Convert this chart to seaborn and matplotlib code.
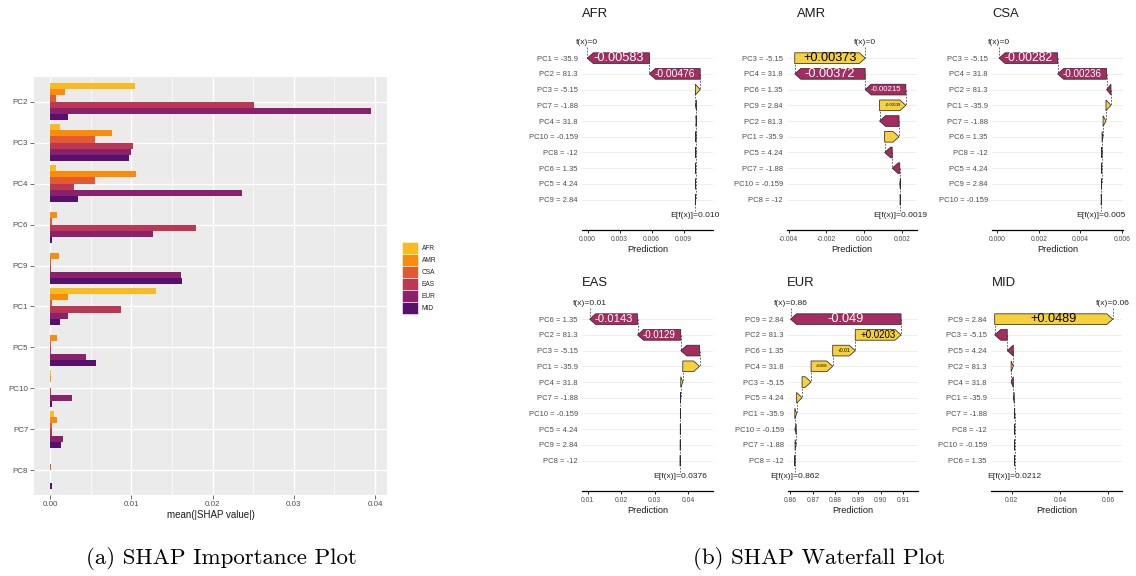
import numpy as np
import pandas as pd
import seaborn as sns
import matplotlib
matplotlib.use("Agg")
import matplotlib.pyplot as plt
from matplotlib.patches import Polygon, Patch
from matplotlib.ticker import FormatStrFormatter, MultipleLocator
from matplotlib.transforms import Bbox, TransformedBbox

# ---------------- data ----------------
regions = ["AFR", "AMR", "CSA", "EAS", "EUR", "MID"]
region_colors = ["#FBBA1F", "#F98C0A", "#E35932", "#BB3754", "#89226A", "#56106E"]

# features ordered by overall importance (top to bottom)
importance_order = ["PC2", "PC3", "PC4", "PC6", "PC9", "PC1", "PC5", "PC10", "PC7", "PC8"]
imp_afr = [0.0104, 0.0012, 0.0007, 0.0, 0.0, 0.0130, 0.0, 0.0001, 0.00045, 0.0]
imp_amr = [0.0018, 0.0076, 0.0106, 0.0009, 0.0011, 0.0022, 0.0008, 0.0001, 0.0008, 0.0]
imp_csa = [0.0007, 0.0055, 0.0055, 0.0002, 0.0001, 0.0003, 0.0001, 0.0, 0.0003, 0.0001]
imp_eas = [0.0251, 0.0102, 0.0030, 0.0180, 0.0001, 0.0087, 0.0001, 0.0001, 0.0002, 0.0]
imp_eur = [0.0395, 0.0100, 0.0236, 0.0127, 0.0161, 0.0022, 0.0044, 0.0027, 0.0016, 0.0]
imp_mid = [0.0022, 0.0097, 0.0034, 0.0002, 0.0163, 0.0012, 0.0057, 0.0002, 0.0013, 0.0002]

# feature values of the explained observation
pc_names = ["PC1", "PC2", "PC3", "PC4", "PC5", "PC6", "PC7", "PC8", "PC9", "PC10"]
pc_values = ["-35.9", "81.3", "-5.15", "31.8", "4.24", "1.35", "-1.88", "-12", "2.84", "-0.159"]

# waterfall contributions, rows listed top to bottom
wf_feats = {
    "AFR": ["PC1", "PC2", "PC3", "PC7", "PC4", "PC10", "PC8", "PC6", "PC5", "PC9"],
    "AMR": ["PC3", "PC4", "PC6", "PC9", "PC2", "PC1", "PC5", "PC7", "PC10", "PC8"],
    "CSA": ["PC3", "PC4", "PC2", "PC1", "PC7", "PC6", "PC8", "PC5", "PC9", "PC10"],
    "EAS": ["PC6", "PC2", "PC3", "PC1", "PC4", "PC7", "PC10", "PC5", "PC9", "PC8"],
    "EUR": ["PC9", "PC2", "PC6", "PC4", "PC3", "PC5", "PC1", "PC10", "PC7", "PC8"],
    "MID": ["PC9", "PC3", "PC5", "PC2", "PC4", "PC1", "PC7", "PC8", "PC10", "PC6"],
}
wf_shap = {
    "AFR": [-0.00583, -0.00476, 0.00045, -0.0001, 0.00004, 0.00002, 0.00001, 0.00001, 0.00001, 0.00001],
    "AMR": [0.00373, -0.00372, -0.00215, 0.00139, -0.00103, 0.00076, -0.0004, -0.0004, -0.00003, 0.00001],
    "CSA": [-0.00282, -0.00236, -0.00021, 0.00024, 0.00014, 0.00005, 0.00001, 0.00001, 0.00001, 0.00001],
    "EAS": [-0.0143, -0.0129, -0.0056, 0.0050, 0.0006, 0.0001, 0.00002, 0.00002, 0.00002, 0.00002],
    "EUR": [-0.049, 0.0203, 0.01, 0.0096, 0.004, 0.0024, 0.0008, -0.0006, 0.0005, 0.0001],
    "MID": [0.0489, -0.0052, -0.0025, 0.0009, -0.0009, -0.0004, -0.0002, 0.00002, 0.00002, 0.00001],
}
wf_baseline = {"AFR": 0.0101, "AMR": 0.0019, "CSA": 0.0050, "EAS": 0.0376, "EUR": 0.862, "MID": 0.0212}
wf_base_digits = {"AFR": 3, "AMR": 4, "CSA": 3, "EAS": 4, "EUR": 3, "MID": 4}
wf_xlim = {
    "AFR": (-0.00053, 0.01175), "AMR": (-0.00408, 0.00279), "CSA": (-0.00026, 0.00605),
    "EAS": (0.0083, 0.0474), "EUR": (0.85897, 0.91662), "MID": (0.01142, 0.06567),
}
wf_ticks = {
    "AFR": [0.0, 0.003, 0.006, 0.009], "AMR": [-0.004, -0.002, 0.0, 0.002],
    "CSA": [0.0, 0.002, 0.004, 0.006], "EAS": [0.01, 0.02, 0.03, 0.04],
    "EUR": [0.86, 0.87, 0.88, 0.89, 0.90, 0.91], "MID": [0.02, 0.04, 0.06],
}
wf_tick_digits = {"AFR": 3, "AMR": 3, "CSA": 3, "EAS": 2, "EUR": 2, "MID": 2}

POS_FILL, NEG_FILL = "#F7D13D", "#A52C60"

# ---------------- figure ----------------
sns.set_theme(style="white")
plt.rcParams["font.family"] = ["Liberation Sans", "DejaVu Sans"]
plt.rcParams["axes.unicode_minus"] = False

W, H = 1136, 576
fig = plt.figure(figsize=(W / 100, H / 100), dpi=100)
fig.patch.set_facecolor("white")


def px_axes(x0, y0, x1, y1):
    return fig.add_axes([x0 / W, 1 - y1 / H, (x1 - x0) / W, (y1 - y0) / H])


# ---------- (a) importance bars ----------
imp = pd.DataFrame({"feature": importance_order, "AFR": imp_afr, "AMR": imp_amr, "CSA": imp_csa,
                    "EAS": imp_eas, "EUR": imp_eur, "MID": imp_mid})
imp_long = imp.melt(id_vars="feature", var_name="region", value_name="value")

ax = px_axes(34, 77, 387, 495)
sns.barplot(data=imp_long, x="value", y="feature", hue="region", order=importance_order,
            hue_order=regions, palette=region_colors, orient="h", width=0.9, saturation=1,
            errorbar=None, legend=False, linewidth=0, ax=ax)
ax.set_facecolor("#EBEBEB")
ax.set_xlim(-0.001975, 0.041475)
ax.set_ylim(len(importance_order) - 0.4, -0.6)
ax.xaxis.set_major_locator(MultipleLocator(0.01))
ax.xaxis.set_minor_locator(MultipleLocator(0.005))
ax.xaxis.set_major_formatter(FormatStrFormatter("%.2f"))
ax.grid(which="major", color="white", linewidth=1.0)
ax.grid(which="minor", axis="x", color="white", linewidth=0.5)
ax.set_axisbelow(True)
for s in ax.spines.values():
    s.set_visible(False)
ax.tick_params(axis="both", which="major", length=2.6, width=0.5, color="#333333",
               labelcolor="#4D4D4D", labelsize=5.8, pad=1.5, bottom=True, left=True)
ax.tick_params(which="minor", length=0)
ax.set_xlabel("mean(|SHAP value|)", fontsize=7, color="#1A1A1A", labelpad=2)
ax.set_ylabel("")

handles = [Patch(facecolor=c, edgecolor="white", linewidth=0.4, label=r)
           for r, c in zip(regions, region_colors)]
fig.legend(handles=handles, loc="upper left", bbox_to_anchor=(402 / W, 1 - 242 / H),
           frameon=False, fontsize=4.8, handlelength=2.45, handleheight=2.4,
           labelspacing=0.0, handletextpad=0.55, borderpad=0, borderaxespad=0)

# ---------- (b) waterfalls ----------
panel_px = {
    "AFR": (582, 33, 713, 230), "AMR": (787, 33, 917, 230), "CSA": (992, 33, 1123, 230),
    "EAS": (582, 294, 713, 491), "EUR": (788, 294, 918, 491), "MID": (991, 294, 1122, 491),
}
title_px = {"AFR": (582, 14), "AMR": (797, 14), "CSA": (992, 14),
            "EAS": (582, 283), "EUR": (787, 283), "MID": (992, 283)}
column_clip = {"AFR": (515, 760), "EAS": (515, 760), "AMR": (760, 927), "EUR": (760, 927),
               "CSA": (927, 1136), "MID": (927, 1136)}

renderer = fig.canvas.get_renderer()
value_of = dict(zip(pc_names, pc_values))
BAR_H = 0.68
HEAD_PX = 6.0

for reg in regions:
    x0, y0, x1, y1 = panel_px[reg]
    wax = px_axes(x0, y0, x1, y1)
    feats, shap = wf_feats[reg], wf_shap[reg]
    base = wf_baseline[reg]
    n = len(feats)
    lo, hi = wf_xlim[reg]
    wax.set_xlim(lo, hi)
    wax.set_ylim(n + 1.93, -0.6)
    px_per_unit = (x1 - x0) / (hi - lo)
    head = HEAD_PX / px_per_unit

    # cumulative path from the baseline (bottom) to the prediction (top)
    starts, ends = [0.0] * n, [0.0] * n
    cur = base
    for i in range(n - 1, -1, -1):
        starts[i] = cur
        cur = cur + shap[i]
        ends[i] = cur
    fx = cur

    clip = TransformedBbox(Bbox([[column_clip[reg][0] / W, 0], [column_clip[reg][1] / W, 1]]),
                           fig.transFigure)

    for i in range(n):
        y = i + 1
        s, e = starts[i], ends[i]
        sign = 1 if e >= s else -1
        hl = min(head, abs(e - s))
        pts = [(s, y - BAR_H / 2), (e - sign * hl, y - BAR_H / 2), (e, y),
               (e - sign * hl, y + BAR_H / 2), (s, y + BAR_H / 2)]
        wax.add_patch(Polygon(pts, closed=True, facecolor=POS_FILL if sign > 0 else NEG_FILL,
                              edgecolor="#2B2B2B", linewidth=0.55, zorder=3))
        # value label, shrunk to fit inside the arrow
        t = wax.text((s + e) / 2, y, f"{shap[i]:+.3g}", ha="center", va="center",
                     fontsize=10, color="black" if sign > 0 else "white", zorder=4)
        wpx = t.get_window_extent(renderer).width
        avail = abs(e - s) * px_per_unit - 10
        size = min(9.2, 10 * avail / wpx) if avail > 0 else 0
        if size < 2.0:
            t.remove()
        else:
            t.set_fontsize(size)
        # dashed connector to the next row
        if i < n - 1:
            wax.plot([s, s], [y, y + 1], color="#555555", lw=0.6, ls=(0, (2.2, 1.6)), zorder=2)

    wax.plot([fx, fx], [0.3, 1], color="#555555", lw=0.6, ls=(0, (2.2, 1.6)), zorder=2)
    wax.plot([base, base], [n, n + 0.7], color="#555555", lw=0.6, ls=(0, (2.2, 1.6)), zorder=2)

    t_fx = wax.text(fx, 0, f"f(x)={round(fx, 2) + 0.0:g}", ha="center", va="center",
                    fontsize=6.1, color="#222222")
    t_e = wax.text(base, n + 1, f"E[f(x)]={base:.{wf_base_digits[reg]}f}", ha="center",
                   va="center", fontsize=6.1, color="#222222")
    for t in (t_fx, t_e):
        t.set_clip_on(True)
        t.set_clip_box(clip)

    wax.set_yticks(range(1, n + 1))
    wax.set_yticklabels([f"{f} = {value_of[f]}" for f in feats])
    wax.yaxis.grid(True, color="#EBEBEB", linewidth=0.6)
    wax.xaxis.grid(False)
    wax.set_axisbelow(True)
    wax.set_xticks(wf_ticks[reg])
    wax.xaxis.set_major_formatter(FormatStrFormatter(f"%.{wf_tick_digits[reg]}f"))
    for side in ("top", "right", "left"):
        wax.spines[side].set_visible(False)
    wax.spines["bottom"].set_color("black")
    wax.spines["bottom"].set_linewidth(0.9)
    wax.tick_params(axis="y", length=0, labelsize=5.5, labelcolor="#4D4D4D", pad=3)
    wax.tick_params(axis="x", length=2.5, width=0.6, color="black", labelsize=4.9,
                    labelcolor="#4D4D4D", pad=1.5, bottom=True)
    wax.set_xlabel("Prediction", fontsize=6.6, color="#1A1A1A", labelpad=1.5)
    wax.set_facecolor("white")

    tx, ty = title_px[reg]
    fig.text(tx / W, 1 - ty / H, reg, fontsize=9.4, ha="left", va="center", color="#1A1A1A")

# ---------- captions ----------
fig.text(221 / W, 1 - 558 / H, "(a) SHAP Importance Plot", fontfamily="cmr10",
         fontsize=16.5, ha="center", va="center", color="black")
fig.text(819 / W, 1 - 558 / H, "(b) SHAP Waterfall Plot", fontfamily="cmr10",
         fontsize=16.5, ha="center", va="center", color="black")

fig.savefig("out.png", dpi=100, facecolor="white")
